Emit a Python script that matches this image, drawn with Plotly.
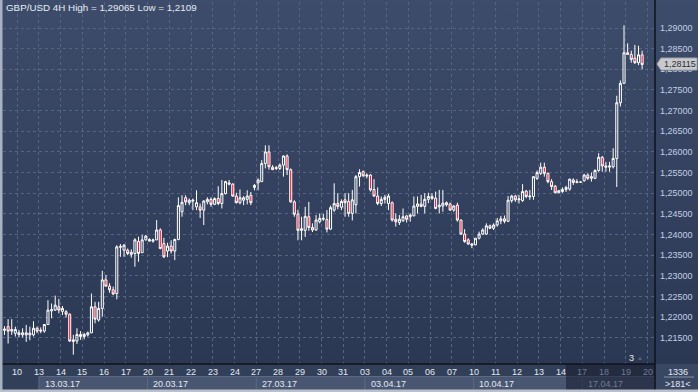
import base64
import plotly.graph_objects as go

# ---------------- data ----------------
open_ = [1.2168, 1.2177, 1.2166, 1.2161, 1.2162, 1.2157, 1.2162, 1.2157, 1.2157, 1.2173,
         1.2166, 1.2166, 1.2182, 1.2215, 1.2217, 1.2225, 1.2214, 1.2213, 1.2207, 1.2141,
         1.2142, 1.2158, 1.2153, 1.2157, 1.2162, 1.2225, 1.2193, 1.2221, 1.2290, 1.2275,
         1.2266, 1.2257, 1.2369, 1.2362, 1.2362, 1.2352, 1.2354, 1.2383, 1.2356, 1.2387,
         1.2388, 1.2384, 1.2387, 1.2411, 1.2378, 1.2360, 1.2372, 1.2360, 1.2388, 1.2455,
         1.2489, 1.2477, 1.2481, 1.2467, 1.2467, 1.2459, 1.2479, 1.2485, 1.2473, 1.2487,
         1.2475, 1.2499, 1.2525, 1.2522, 1.2493, 1.2477, 1.2483, 1.2485, 1.2495, 1.2514,
         1.2525, 1.2528, 1.2572, 1.2600, 1.2563, 1.2562, 1.2560, 1.2568, 1.2590, 1.2557,
         1.2479, 1.2449, 1.2410, 1.2410, 1.2443, 1.2417, 1.2411, 1.2431, 1.2437, 1.2436,
         1.2413, 1.2459, 1.2475, 1.2466, 1.2484, 1.2480, 1.2451, 1.2472, 1.2540, 1.2552,
         1.2544, 1.2544, 1.2509, 1.2493, 1.2475, 1.2485, 1.2475, 1.2477, 1.2437, 1.2429,
         1.2433, 1.2445, 1.2443, 1.2445, 1.2468, 1.2474, 1.2468, 1.2485, 1.2487, 1.2488,
         1.2467, 1.2469, 1.2477, 1.2474, 1.2459, 1.2471, 1.2435, 1.2401, 1.2387, 1.2374,
         1.2375, 1.2391, 1.2401, 1.2401, 1.2421, 1.2415, 1.2423, 1.2433, 1.2438, 1.2432,
         1.2482, 1.2493, 1.2484, 1.2482, 1.2505, 1.2491, 1.2492, 1.2536, 1.2548, 1.2563,
         1.2548, 1.2528, 1.2517, 1.2501, 1.2504, 1.2509, 1.2510, 1.2532, 1.2528, 1.2527,
         1.2530, 1.2544, 1.2536, 1.2536, 1.2555, 1.2587, 1.2566, 1.2563, 1.2564, 1.2584,
         1.2719, 1.2766, 1.2840, 1.2836, 1.2827, 1.2816, 1.2835]
high = [1.2178, 1.2195, 1.2195, 1.2177, 1.2169, 1.2173, 1.2181, 1.2177, 1.2190, 1.2177,
        1.2175, 1.2183, 1.2241, 1.2233, 1.2252, 1.2244, 1.2227, 1.2217, 1.2209, 1.2157,
        1.2173, 1.2166, 1.2162, 1.2165, 1.2257, 1.2237, 1.2237, 1.2312, 1.2302, 1.2282,
        1.2274, 1.2374, 1.2377, 1.2377, 1.2366, 1.2364, 1.2391, 1.2395, 1.2399, 1.2399,
        1.2391, 1.2390, 1.2435, 1.2415, 1.2392, 1.2380, 1.2386, 1.2390, 1.2490, 1.2495,
        1.2495, 1.2487, 1.2487, 1.2507, 1.2475, 1.2483, 1.2490, 1.2490, 1.2490, 1.2517,
        1.2532, 1.2530, 1.2532, 1.2524, 1.2501, 1.2509, 1.2493, 1.2507, 1.2503, 1.2522,
        1.2536, 1.2580, 1.2616, 1.2616, 1.2568, 1.2566, 1.2572, 1.2592, 1.2594, 1.2560,
        1.2483, 1.2460, 1.2443, 1.2467, 1.2479, 1.2427, 1.2447, 1.2451, 1.2450, 1.2459,
        1.2470, 1.2524, 1.2500, 1.2485, 1.2500, 1.2500, 1.2508, 1.2544, 1.2558, 1.2555,
        1.2548, 1.2546, 1.2534, 1.2514, 1.2492, 1.2496, 1.2498, 1.2480, 1.2451, 1.2447,
        1.2463, 1.2447, 1.2451, 1.2492, 1.2492, 1.2496, 1.2500, 1.2501, 1.2500, 1.2504,
        1.2508, 1.2508, 1.2480, 1.2477, 1.2471, 1.2477, 1.2436, 1.2413, 1.2391, 1.2379,
        1.2391, 1.2407, 1.2415, 1.2427, 1.2424, 1.2427, 1.2440, 1.2445, 1.2446, 1.2493,
        1.2496, 1.2496, 1.2496, 1.2522, 1.2508, 1.2508, 1.2541, 1.2555, 1.2574, 1.2574,
        1.2550, 1.2534, 1.2520, 1.2508, 1.2514, 1.2518, 1.2535, 1.2536, 1.2534, 1.2528,
        1.2547, 1.2548, 1.2550, 1.2558, 1.2597, 1.2590, 1.2576, 1.2576, 1.2609, 1.2736,
        1.2773, 1.29065, 1.2863, 1.2845, 1.2859, 1.2857, 1.2845]
low = [1.2157, 1.2136, 1.2157, 1.2153, 1.2151, 1.2151, 1.2140, 1.2144, 1.2153, 1.2161,
       1.2161, 1.2162, 1.2181, 1.2197, 1.2215, 1.2209, 1.2205, 1.2199, 1.2140, 1.2109,
       1.2135, 1.2145, 1.2146, 1.2153, 1.2161, 1.2185, 1.2189, 1.2201, 1.2274, 1.2259,
       1.2253, 1.2243, 1.2346, 1.2346, 1.2350, 1.2344, 1.2322, 1.2334, 1.2356, 1.2385,
       1.2383, 1.2380, 1.2387, 1.2364, 1.2343, 1.2345, 1.2354, 1.2338, 1.2386, 1.2443,
       1.2471, 1.2471, 1.2459, 1.2459, 1.2440, 1.2423, 1.2473, 1.2467, 1.2471, 1.2471,
       1.2463, 1.2497, 1.2519, 1.2491, 1.2475, 1.2473, 1.2471, 1.2473, 1.2471, 1.2507,
       1.2507, 1.2528, 1.2560, 1.2557, 1.2556, 1.2556, 1.2556, 1.2540, 1.2544, 1.2477,
       1.2443, 1.2386, 1.2386, 1.2394, 1.2409, 1.2406, 1.2409, 1.2427, 1.2433, 1.2405,
       1.2411, 1.2455, 1.2461, 1.2459, 1.2443, 1.2443, 1.2434, 1.2451, 1.2516, 1.2540,
       1.2536, 1.2504, 1.2492, 1.2471, 1.2469, 1.2475, 1.2459, 1.2431, 1.2419, 1.2423,
       1.2431, 1.2429, 1.2431, 1.2445, 1.2451, 1.2466, 1.2451, 1.2476, 1.2484, 1.2461,
       1.2451, 1.2455, 1.2468, 1.2458, 1.2455, 1.2431, 1.2399, 1.2380, 1.2375, 1.2367,
       1.2374, 1.2388, 1.2399, 1.2399, 1.2413, 1.2411, 1.2419, 1.2425, 1.2427, 1.2430,
       1.2477, 1.2479, 1.2475, 1.2479, 1.2488, 1.2484, 1.2484, 1.2532, 1.2544, 1.2540,
       1.2524, 1.2508, 1.2500, 1.2500, 1.2501, 1.2503, 1.2506, 1.2520, 1.2524, 1.2526,
       1.2528, 1.2532, 1.2528, 1.2534, 1.2552, 1.2552, 1.2552, 1.2552, 1.2560, 1.2515,
       1.2710, 1.2765, 1.2835, 1.2816, 1.2813, 1.2810, 1.2800]
close = [1.2171, 1.2166, 1.2170, 1.2170, 1.2158, 1.2162, 1.2157, 1.2161, 1.2173, 1.2166,
         1.2168, 1.2182, 1.2217, 1.2218, 1.2229, 1.2217, 1.2221, 1.2207, 1.2142, 1.2145,
         1.2158, 1.2153, 1.2158, 1.2162, 1.2225, 1.2195, 1.2221, 1.2290, 1.2275, 1.2266,
         1.2256, 1.2370, 1.2371, 1.2374, 1.2354, 1.2357, 1.2387, 1.2354, 1.2387, 1.2396,
         1.2384, 1.2387, 1.2411, 1.2366, 1.2346, 1.2372, 1.2360, 1.2388, 1.2470, 1.2478,
         1.2479, 1.2483, 1.2483, 1.2477, 1.2459, 1.2481, 1.2485, 1.2473, 1.2487, 1.2475,
         1.2499, 1.2528, 1.2522, 1.2493, 1.2477, 1.2489, 1.2489, 1.2493, 1.2477, 1.2519,
         1.2532, 1.2572, 1.2600, 1.2564, 1.2557, 1.2560, 1.2568, 1.2590, 1.2557, 1.2479,
         1.2449, 1.2410, 1.2414, 1.2444, 1.2417, 1.2411, 1.2435, 1.2439, 1.2439, 1.2413,
         1.2465, 1.2475, 1.2468, 1.2480, 1.2477, 1.2451, 1.2484, 1.2540, 1.2550, 1.2542,
         1.2542, 1.2508, 1.2493, 1.2475, 1.2485, 1.2490, 1.2493, 1.2435, 1.2431, 1.2437,
         1.2443, 1.2437, 1.2447, 1.2469, 1.2474, 1.2468, 1.2485, 1.2492, 1.2492, 1.2463,
         1.2471, 1.2476, 1.2472, 1.2459, 1.2469, 1.2435, 1.2401, 1.2383, 1.2377, 1.2377,
         1.2391, 1.2401, 1.2411, 1.2421, 1.2415, 1.2423, 1.2433, 1.2438, 1.2432, 1.2483,
         1.2493, 1.2484, 1.2486, 1.2504, 1.2492, 1.2493, 1.2540, 1.2550, 1.2563, 1.2548,
         1.2528, 1.2516, 1.2501, 1.2506, 1.2509, 1.2514, 1.2534, 1.2526, 1.2526, 1.2527,
         1.2544, 1.2536, 1.2540, 1.2555, 1.2587, 1.2566, 1.2563, 1.2566, 1.2584, 1.2719,
         1.2766, 1.2840, 1.2836, 1.2824, 1.2816, 1.2835, 1.28115]

day_labels = ["10", "13", "14", "15", "16", "17", "20", "21", "22", "23", "24",
              "27", "28", "29", "30", "31", "03", "04", "05", "06", "07",
              "10", "11", "12", "13", "14", "17", "18", "19", "20"]
week_labels = ["13.03.17", "20.03.17", "27.03.17", "03.04.17", "10.04.17", "17.04.17"]
price_ticks = [1.215, 1.22, 1.225, 1.23, 1.235, 1.24, 1.245, 1.25, 1.255,
               1.26, 1.265, 1.27, 1.275, 1.28, 1.285, 1.29]
title_text = "GBP/USD 4H High = 1,29065 Low = 1,2109"
last_price = "1,28115"
corner_top = "1336"
corner_bottom = ">181<"
marker_text = "3"

# ---------------- layout helpers ----------------
W, H = 698, 392
L, R, T, B = 3, 43, 2, 28
PW, PH = W - L - R, H - T - B
BARS_PER_DAY = 6
FIRST_DAY_START = 3.5


def ppy(py):
    return (H - B - py) / PH


def ppx(px):
    return (px - L) / PW


FONT = "Liberation Sans, Arial, sans-serif"

x = list(range(len(close)))
day_bounds = [FIRST_DAY_START + BARS_PER_DAY * d for d in range(len(day_labels))]
week_bounds = [day_bounds[i] for i in range(1, len(day_labels), 5)]

fig = go.Figure(go.Candlestick(
    x=x, open=open_, high=high, low=low, close=close,
    increasing=dict(line=dict(color="#ffffff", width=1), fillcolor="rgba(0,0,0,0)"),
    decreasing=dict(line=dict(color="#ffffff", width=1), fillcolor="#e8102e"),
    whiskerwidth=0, hoverinfo="skip", showlegend=False,
))

grad = ('<svg xmlns="http://www.w3.org/2000/svg" viewBox="0 0 10 100" width="10" height="100" '
        'preserveAspectRatio="none"><defs><linearGradient id="g" x1="0" y1="0" x2="0" y2="1">'
        '<stop offset="0" stop-color="#3d4c6a"/><stop offset="1" stop-color="#2b3854"/>'
        '</linearGradient></defs><rect width="10" height="100" fill="url(#g)"/></svg>')
grad_src = "data:image/svg+xml;base64," + base64.b64encode(grad.encode()).decode()

shapes = []
# bottom axis panel
shapes.append(dict(type="rect", xref="paper", yref="paper", x0=ppx(0), x1=1, y0=ppy(392), y1=0,
                   fillcolor="#323f59", line_width=0, layer="below"))
# week boxes
ends = week_bounds[1:] + [None]
for wb, we in zip(week_bounds, ends):
    shapes.append(dict(type="rect", xref="x", yref="paper", x0=wb, x1=(we if we is not None else 200),
                       y0=ppy(392), y1=ppy(376.5),
                       fillcolor="#485671", line=dict(color="#5b6983", width=1), layer="above"))
# dim overlay on the right part of the time axis
shapes.append(dict(type="rect", xref="paper", yref="paper", x0=ppx(566), x1=1, y0=ppy(392), y1=0,
                   fillcolor="rgba(22,28,44,0.55)", line_width=0, layer="above"))
# separators
shapes.append(dict(type="line", xref="paper", yref="paper", x0=ppx(0), x1=1, y0=0, y1=0,
                   line=dict(color="#101318", width=1.5), layer="above"))
shapes.append(dict(type="line", xref="paper", yref="paper", x0=1, x1=1, y0=ppy(392), y1=ppy(0),
                   line=dict(color="#101318", width=1.5), layer="above"))
# outer light border (left and bottom)
shapes.append(dict(type="rect", xref="paper", yref="paper", x0=ppx(0), x1=ppx(2.5), y0=ppy(392), y1=ppy(0),
                   fillcolor="#a9b2c2", line_width=0, layer="above"))
shapes.append(dict(type="rect", xref="paper", yref="paper", x0=ppx(0), x1=ppx(698), y0=ppy(392), y1=ppy(389.5),
                   fillcolor="#b9c0cc", line_width=0, layer="above"))
# corner separator
shapes.append(dict(type="line", xref="paper", yref="paper", x0=ppx(664), x1=ppx(694), y0=ppy(377), y1=ppy(377),
                   line=dict(color="#8793a8", width=1), layer="above"))
# last price tag
tag_top = ppy(58)
tag_bot = ppy(70)
tag_mid = (tag_top + tag_bot) / 2
shapes.append(dict(type="path", xref="paper", yref="paper",
                   path=f"M {ppx(657)} {tag_mid} L {ppx(661)} {tag_top} L {ppx(697)} {tag_top} "
                        f"L {ppx(697)} {tag_bot} L {ppx(661)} {tag_bot} Z",
                   fillcolor="#c8c9cc", line=dict(color="#9fa3aa", width=1), layer="above"))

annotations = []
annotations.append(dict(text=title_text, xref="paper", yref="paper", x=ppx(4), y=ppy(8),
                        xanchor="left", yanchor="middle", showarrow=False,
                        font=dict(family=FONT, size=9.8, color="#e6ebf3")))
for db, lab in zip(day_bounds, day_labels):
    dim = db > 159
    annotations.append(dict(text=lab, xref="x", yref="paper", x=db, y=ppy(371.5),
                            xanchor="center", yanchor="middle", showarrow=False,
                            font=dict(family=FONT, size=9, color="#6f7c92" if dim else "#e4e9f1")))
for wb, lab in zip(week_bounds, week_labels):
    dim = wb > 159
    annotations.append(dict(text=lab, xref="x", yref="paper", x=wb + 1.0, y=ppy(383.5),
                            xanchor="left", yanchor="middle", showarrow=False,
                            font=dict(family=FONT, size=9, color="#6f7c92" if dim else "#e4e9f1")))
annotations.append(dict(text=last_price, xref="paper", yref="paper", x=ppx(680), y=tag_mid,
                        xanchor="center", yanchor="middle", showarrow=False,
                        font=dict(family=FONT, size=9, color="#2a2e36")))
annotations.append(dict(text=corner_top, xref="paper", yref="paper", x=ppx(678), y=ppy(371.5),
                        xanchor="center", yanchor="middle", showarrow=False,
                        font=dict(family=FONT, size=9, color="#e4e9f1")))
annotations.append(dict(text=corner_bottom, xref="paper", yref="paper", x=ppx(678), y=ppy(383.5),
                        xanchor="center", yanchor="middle", showarrow=False,
                        font=dict(family=FONT, size=9, color="#e4e9f1")))
annotations.append(dict(text=marker_text, xref="paper", yref="paper", x=ppx(631.5), y=ppy(357.5),
                        xanchor="center", yanchor="middle", showarrow=False,
                        font=dict(family=FONT, size=9, color="#e4e9f1")))
annotations.append(dict(text="▲", xref="paper", yref="paper", x=ppx(640), y=ppy(358),
                        xanchor="center", yanchor="middle", showarrow=False,
                        font=dict(family=FONT, size=6, color="#56647d")))

fig.update_layout(
    width=W, height=H,
    margin=dict(l=L, r=R, t=T, b=B, pad=0),
    paper_bgcolor="#394763",
    plot_bgcolor="rgba(0,0,0,0)",
    showlegend=False,
    boxgap=0.2,
    images=[dict(source=grad_src, xref="paper", yref="paper", x=ppx(0), y=ppy(0),
                 sizex=ppx(698) - ppx(0), sizey=ppy(0) - ppy(364), sizing="stretch",
                 xanchor="left", yanchor="top", layer="below")],
    shapes=shapes,
    annotations=annotations,
    xaxis=dict(range=[-0.41, 179.55], tickvals=day_bounds, showticklabels=False,
               showgrid=True, gridcolor="#56657f", griddash="3px,3px", gridwidth=1,
               zeroline=False, showline=False, ticks="", rangeslider=dict(visible=False),
               fixedrange=True),
    yaxis=dict(range=[1.208644, 1.296295], side="right", tickvals=price_ticks,
               ticktext=[f"{v:.5f}".replace(".", ",") for v in price_ticks],
               tickfont=dict(family=FONT, size=9, color="#c3cfe4"),
               showgrid=True, gridcolor="#56657f", griddash="3px,3px", gridwidth=1,
               zeroline=False, showline=False, ticks="", ticklabelstandoff=4,
               fixedrange=True),
)

fig.write_html("out.html", config={"displayModeBar": False},
               post_script="document.body.style.margin='0';document.body.style.overflow='hidden';")
